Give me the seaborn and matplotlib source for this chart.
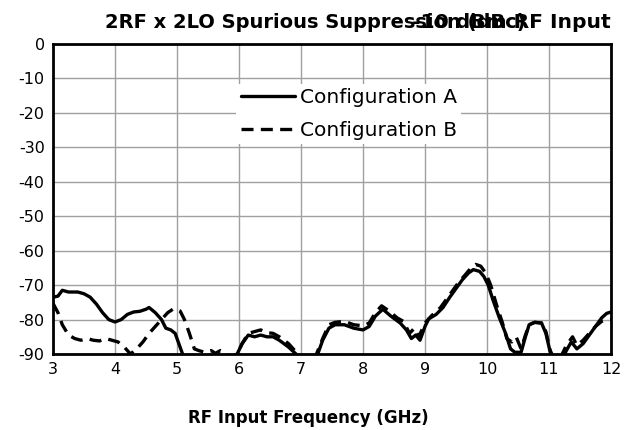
import matplotlib
matplotlib.use("Agg")
import matplotlib.pyplot as plt
import seaborn as sns
import pandas as pd

# Spurious suppression measurements (dBc) versus RF input frequency (GHz)
freq_a = [3.00, 3.08, 3.15, 3.25, 3.40, 3.50, 3.60, 3.70, 3.80, 3.90, 4.00, 4.10, 4.20,
          4.30, 4.40, 4.50, 4.55, 4.65, 4.75, 4.82, 4.90, 4.97, 5.05, 5.12, 5.30, 5.50,
          5.70, 5.90, 5.97, 6.05, 6.15, 6.25, 6.35, 6.45, 6.55, 6.65, 6.80, 6.95, 7.10,
          7.26, 7.35, 7.45, 7.55, 7.70, 7.85, 8.00, 8.10, 8.20, 8.32, 8.45, 8.60, 8.70,
          8.78, 8.85, 8.92, 9.00, 9.06, 9.18, 9.29, 9.40, 9.50, 9.60, 9.70, 9.78, 9.88,
          9.95, 10.02, 10.10, 10.20, 10.30, 10.38, 10.45, 10.55, 10.62, 10.68, 10.77,
          10.88, 10.95, 11.02, 11.10, 11.20, 11.28, 11.36, 11.45, 11.55, 11.65, 11.75,
          11.85, 11.93, 12.00]
config_a = [-73.5, -73.2, -71.5, -72.0, -72.0, -72.5, -73.5, -75.5, -78.0, -80.0, -80.7,
            -80.0, -78.5, -77.8, -77.6, -77.0, -76.5, -78.0, -80.0, -82.5, -83.0, -84.0,
            -88.0, -91.5, -93.0, -91.0, -92.0, -91.0, -90.0, -87.0, -84.5, -85.0, -84.5,
            -85.0, -85.0, -86.0, -88.0, -90.5, -93.0, -90.5, -86.0, -82.5, -81.5, -81.5,
            -82.5, -83.0, -82.0, -79.0, -77.0, -79.0, -81.0, -83.0, -85.5, -84.5, -86.0,
            -82.0, -79.8, -78.5, -76.5, -73.5, -71.0, -68.5, -66.5, -65.5, -66.0, -67.5,
            -70.0, -74.5, -79.5, -84.0, -88.5, -89.5, -89.5, -85.0, -81.5, -80.8, -81.0,
            -84.0, -89.5, -92.5, -92.0, -89.0, -86.5, -88.5, -87.0, -84.5, -82.0, -79.5,
            -78.2, -77.8]

freq_b = [3.00, 3.08, 3.15, 3.25, 3.35, 3.45, 3.55, 3.65, 3.75, 3.85, 3.95, 4.05, 4.15,
          4.25, 4.35, 4.45, 4.55, 4.65, 4.75, 4.85, 4.95, 5.05, 5.12, 5.20, 5.28, 5.35,
          5.45, 5.55, 5.62, 5.70, 5.78, 5.85, 5.97, 6.05, 6.15, 6.25, 6.35, 6.45, 6.55,
          6.65, 6.80, 6.95, 7.10, 7.25, 7.35, 7.45, 7.55, 7.70, 7.85, 8.00, 8.10, 8.20,
          8.30, 8.42, 8.55, 8.65, 8.75, 8.83, 8.90, 9.00, 9.10, 9.25, 9.35, 9.45, 9.55,
          9.65, 9.75, 9.82, 9.90, 9.98, 10.06, 10.15, 10.25, 10.32, 10.40, 10.47, 10.55,
          10.62, 10.68, 10.77, 10.88, 10.95, 11.02, 11.10, 11.20, 11.28, 11.38, 11.45,
          11.55, 11.65, 11.75, 11.85, 11.93, 12.00]
config_b = [-75.3, -78.0, -81.5, -84.5, -85.5, -86.0, -85.5, -86.0, -86.2, -85.5, -86.0,
            -86.5, -88.0, -90.0, -88.5, -86.5, -84.0, -82.0, -80.0, -78.0, -76.8, -77.5,
            -80.0, -84.0, -88.5, -89.0, -89.5, -89.0, -89.8, -89.0, -89.5, -91.0, -90.0,
            -87.0, -84.0, -83.5, -83.0, -83.8, -84.0, -85.0, -87.0, -90.0, -93.0, -90.0,
            -85.5, -81.5, -80.8, -80.5, -81.5, -81.8, -81.0, -78.0, -76.0, -77.5, -79.5,
            -80.5, -84.0, -82.5, -85.0, -81.0, -79.0, -76.5, -74.0, -71.5, -69.0, -67.0,
            -64.8, -64.0, -64.5, -66.5, -70.0, -75.5, -81.0, -85.5, -86.5, -85.0, -88.5,
            -84.5, -81.5, -80.8, -81.0, -83.5, -89.0, -92.0, -90.5, -87.5, -85.0, -87.5,
            -86.0, -84.0, -82.0, -80.5, -80.0, -80.0]

x_ticks = [3, 4, 5, 6, 7, 8, 9, 10, 11, 12]
y_ticks = [0, -10, -20, -30, -40, -50, -60, -70, -80, -90]

df_a = pd.DataFrame({"freq": freq_a, "dbc": config_a})
df_b = pd.DataFrame({"freq": freq_b, "dbc": config_b})

sns.set_style("white")
plt.rcParams["font.family"] = ["DejaVu Sans"]
plt.rcParams["text.color"] = "black"
plt.rcParams["xtick.color"] = "black"
plt.rcParams["ytick.color"] = "black"

fig = plt.figure(figsize=(6.28, 4.30), dpi=100)
ax = fig.add_axes([0.0844, 0.1767, 0.8885, 0.7209])

sns.lineplot(data=df_a, x="freq", y="dbc", ax=ax, color="black", linewidth=2.4,
             label="Configuration A", sort=False)
sns.lineplot(data=df_b, x="freq", y="dbc", ax=ax, color="black", linewidth=2.4,
             label="Configuration B", sort=False, linestyle=(0, (3.6, 2.2)))

ax.set_xlim(3, 12)
ax.set_ylim(-90, 0)
ax.set_xticks(x_ticks)
ax.set_yticks(y_ticks)
ax.set_xticklabels([str(v) for v in x_ticks], fontsize=11.5, color="black")
ax.set_yticklabels([str(v) for v in y_ticks], fontsize=11.5, color="black")
ax.tick_params(axis="both", length=0, pad=6)
ax.set_xlabel("")
ax.set_ylabel("")
ax.grid(True, color="#a0a0a0", linewidth=1.0)
ax.set_axisbelow(True)
for side in ("left", "right", "top", "bottom"):
    ax.spines[side].set_visible(True)
    ax.spines[side].set_color("black")
    ax.spines[side].set_linewidth(2.0)

leg = ax.legend(loc="center", bbox_to_anchor=(0.530, 0.774), fontsize=14.5,
                frameon=True, facecolor="white", edgecolor="none", framealpha=1.0,
                handlelength=2.7, handletextpad=0.25, labelspacing=0.68,
                borderpad=0.2, fancybox=False)
for t in leg.get_texts():
    t.set_color("black")

fig.text(105 / 628, 1 - 23 / 430, "2RF x 2LO Spurious Suppression (dBc)",
         fontsize=14, fontweight="bold", ha="left", va="center", color="black")
fig.text(611 / 628, 1 - 23 / 430, "-10 dBm RF Input",
         fontsize=14.6, fontweight="bold", ha="right", va="center", color="black")
fig.text(308 / 628, 12 / 430, "RF Input Frequency (GHz)",
         fontsize=12, fontweight="bold", ha="center", va="center", color="black")

fig.savefig("out.png", dpi=100)
